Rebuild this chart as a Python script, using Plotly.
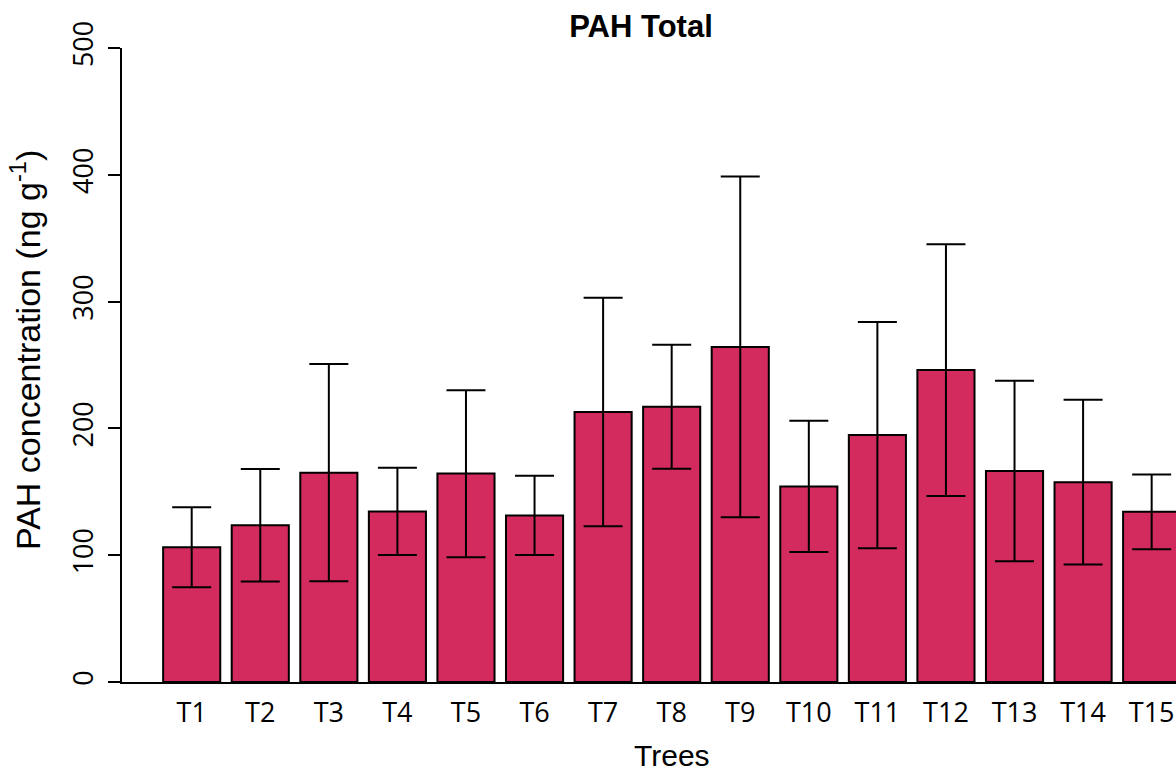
import plotly.graph_objects as go

trees = ["T1", "T2", "T3", "T4", "T5", "T6", "T7", "T8", "T9", "T10", "T11", "T12", "T13", "T14", "T15"]
means = [106.3, 123.7, 165.0, 134.5, 164.4, 131.3, 212.9, 217.1, 264.2, 154.2, 194.7, 246.0, 166.5, 157.6, 134.2]
upper = [137.9, 167.9, 250.7, 168.9, 230.0, 162.6, 303.1, 266.0, 398.6, 206.0, 283.9, 345.2, 237.6, 222.6, 163.7]
lower = [74.7, 79.2, 79.5, 100.2, 98.4, 100.2, 122.9, 168.1, 130.0, 102.6, 105.5, 146.6, 95.3, 92.7, 104.7]
y_ticks = [0, 100, 200, 300, 400, 500]

xpos = list(range(1, len(trees) + 1))
err_plus = [u - m for u, m in zip(upper, means)]
err_minus = [m - l for m, l in zip(means, lower)]

W, H = 1176, 771
ML, MT = 122, 48
PR, PB = 1176, 682        # plot right / bottom edges in px
MR, MB = W - PR, H - PB
PW, PH = PR - ML, PB - MT

def px_x(p):
    return (p - ML) / PW

def px_y(p):
    return (PB - p) / PH

fig = go.Figure()
fig.add_trace(go.Bar(
    x=xpos, y=means, width=0.833,
    marker=dict(color="#D32B5E", line=dict(color="black", width=2)),
    error_y=dict(type="data", symmetric=False, array=err_plus, arrayminus=err_minus,
                 color="black", thickness=2, width=19.5),
    showlegend=False,
))

fig.update_layout(
    width=W, height=H,
    margin=dict(l=ML, r=MR, t=MT, b=MB),
    plot_bgcolor="white", paper_bgcolor="white",
    title=dict(text="<b>PAH Total</b>", x=641 / W, xanchor="center", y=1 - 26 / H,
               yanchor="middle",
               font=dict(family="Liberation Sans, Arial", size=31, color="black")),
    xaxis=dict(range=[-0.0165, 15.355], tickvals=xpos, ticktext=trees, showgrid=False, zeroline=False,
               showline=True, linecolor="black", linewidth=2, ticks="",
               tickfont=dict(family="Open Sans", size=27, color="black"), ticklabelstandoff=6),
    yaxis=dict(range=[0, 500], tickvals=y_ticks, showgrid=False, zeroline=False,
               showline=True, linecolor="black", linewidth=2, ticks="outside", ticklen=12,
               tickwidth=2, tickcolor="black", tickangle=-90,
               tickfont=dict(family="Open Sans", size=27, color="black"), ticklabelstandoff=4),
    annotations=[
        dict(text="Trees", xref="paper", yref="paper", x=px_x(672), y=px_y(755), xanchor="center",
             yanchor="middle", showarrow=False,
             font=dict(family="Liberation Sans, Arial", size=30, color="black")),
        dict(text="PAH concentration (ng g<sup>-1</sup>)", xref="paper", yref="paper", x=px_x(25),
             y=px_y(350), xanchor="center", yanchor="middle", textangle=-90, showarrow=False,
             font=dict(family="Liberation Sans, Arial", size=34, color="black")),
    ],
)

fig.write_html("out.html", config={"displayModeBar": False},
               post_script="document.body.style.margin='0';document.body.style.overflow='hidden';")
